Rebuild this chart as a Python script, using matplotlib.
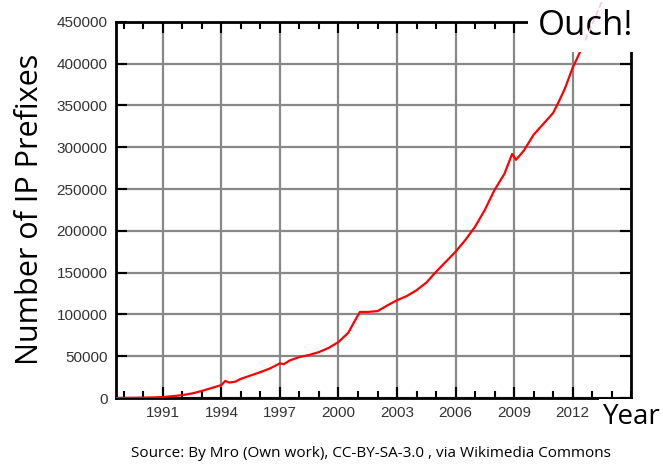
import matplotlib
matplotlib.use("Agg")
import matplotlib.pyplot as plt
from matplotlib.ticker import MultipleLocator

years = [1988.6, 1989.5, 1990.5, 1991.0, 1991.5, 1992.0, 1992.5, 1993.0, 1993.5, 1994.0,
         1994.2, 1994.4, 1994.7, 1995.0, 1995.5, 1996.0, 1996.5, 1997.0, 1997.2, 1997.5,
         1998.0, 1998.5, 1999.0, 1999.5, 2000.0, 2000.5, 2000.9, 2001.1, 2001.5, 2002.0,
         2002.3, 2002.6, 2003.0, 2003.5, 2004.0, 2004.5, 2005.0, 2005.5, 2006.0, 2006.5,
         2007.0, 2007.5, 2008.0, 2008.5, 2008.9, 2009.1, 2009.5, 2010.0, 2010.5, 2011.0,
         2011.3, 2011.6, 2012.0, 2012.3, 2012.65]
prefixes = [0, 300, 700, 1200, 2200, 3500, 5500, 8500, 12000, 15500,
            20500, 18500, 19500, 23000, 27000, 31000, 35500, 41500, 40500, 45000,
            49000, 51500, 55000, 60000, 67000, 78000, 95000, 103000, 103000, 104000,
            108000, 112000, 117000, 122000, 129000, 138000, 151000, 163000, 175000, 189000,
            205000, 225000, 249000, 268000, 292000, 285000, 296000, 315000, 328000, 341000,
            355000, 370000, 395000, 410000, 428000]
ext_years = [2012.65, 2013.6]
ext_prefixes = [428000, 480000]

xticks = [1991, 1994, 1997, 2000, 2003, 2006, 2009, 2012]
yticks = [0, 50000, 100000, 150000, 200000, 250000, 300000, 350000, 400000, 450000]

fig = plt.figure(figsize=(6.63, 4.65), dpi=100)
ax = fig.add_axes([0.175, 0.144, 0.777, 0.809])

ax.plot(years, prefixes, color="#ff0000", lw=1.6, zorder=3)
ax.plot(ext_years, ext_prefixes, color="#ffc0e0", lw=1.2, ls="--", zorder=6, clip_on=False)

ax.set_xlim(1988.6, 2015.0)
ax.set_ylim(0, 450000)
ax.set_xticks(xticks)
ax.set_yticks(yticks)
ax.xaxis.set_minor_locator(MultipleLocator(1))
ax.grid(True, which="major", color="#888888", lw=1.6)
ax.set_axisbelow(True)
for s in ax.spines.values():
    s.set_linewidth(2)
    s.set_color("black")
ax.tick_params(which="both", direction="in", top=True, right=True, width=1.5,
               labelsize=11, labelcolor="#333333", pad=6)
ax.tick_params(which="major", length=8)
ax.tick_params(which="minor", length=5)
for lab in ax.get_xticklabels() + ax.get_yticklabels():
    lab.set_family("Liberation Sans")

fig.text(0.045, 0.55, "Number of IP Prefixes", rotation=90, ha="center", va="center",
         fontsize=22, family="Open Sans")
ax.text(0.955, 0.945, "Ouch!", ha="right", va="center", fontsize=25, family="Open Sans",
        transform=fig.transFigure, zorder=5, clip_on=False,
        bbox=dict(facecolor="white", edgecolor="none", boxstyle="square,pad=0.28"))
fig.text(0.997, 0.103, "Year", ha="right", va="center", fontsize=20, family="Open Sans",
         bbox=dict(facecolor="white", edgecolor="none", pad=3))
fig.text(0.56, 0.025, "Source: By Mro (Own work), CC-BY-SA-3.0 , via Wikimedia Commons",
         ha="center", va="center", fontsize=11, family="Open Sans")

fig.savefig("out.png", dpi=100)
